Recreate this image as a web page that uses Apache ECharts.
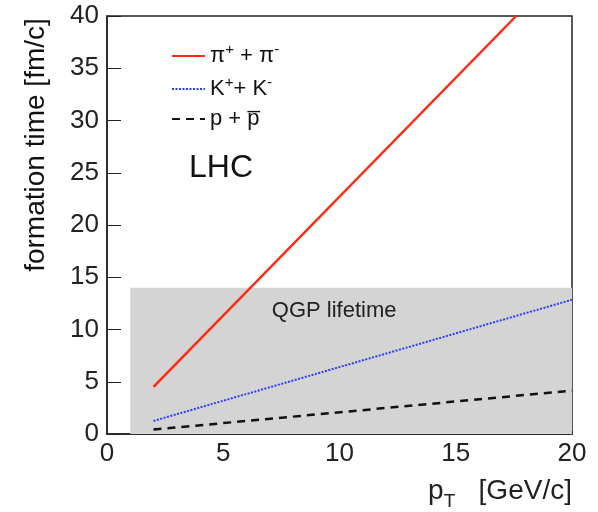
<!DOCTYPE html>
<html>
<head>
<meta charset="utf-8">
<script src="https://cdn.jsdelivr.net/npm/echarts@6/dist/echarts.min.js"></script>
<style>
  html, body { margin: 0; padding: 0; background: #fff; }
  #main { width: 598px; height: 512px; }
</style>
</head>
<body>
<div id="main"></div>
<script>
// data
var seriesNames = ['pion', 'kaon', 'proton'];
var pionLine = [[2, 4.5], [17.6, 40]];
var kaonLine = [[2, 1.25], [20, 12.85]];
var protonLine = [[2, 0.42], [20, 4.15]];
var qgpBox = [[1, 0], [20, 14]];
var xTicks = [0, 5, 10, 15, 20];
var yTicks = [0, 5, 10, 15, 20, 25, 30, 35, 40];

var FONT = 'Liberation Sans';
var dom = document.getElementById('main');
var myChart = echarts.init(dom);

var option = {
    animation: false,
    textStyle: { fontFamily: FONT },
    grid: {
        left: 107, right: 26, top: 16, bottom: 78,
        outerBoundsMode: 'none',
        show: true, borderColor: '#222', borderWidth: 1.5
    },
    legend: {
        orient: 'vertical',
        left: 166,
        top: 37,
        itemWidth: 33,
        itemHeight: 14,
        itemGap: 8,
        itemStyle: { opacity: 0 },
        textStyle: {
            fontSize: 22, color: '#111',
            rich: {
                n: { fontSize: 22, lineHeight: 28, color: '#111' },
                sup: { fontSize: 15, lineHeight: 15, verticalAlign: 'top', color: '#111' }
            }
        },
        formatter: function (name) {
            if (name === 'pion') return '{n|\u03c0}{sup|+}{n| + \u03c0}{sup|-}';
            if (name === 'kaon') return '{n|K}{sup|+}{n|+ K}{sup|-}';
            return '{n|p + p\u0305}';
        },
        data: seriesNames
    },
    xAxis: {
        type: 'value',
        min: xTicks[0], max: xTicks[xTicks.length - 1], interval: 5,
        splitLine: { show: false },
        axisLine: { lineStyle: { color: '#222', width: 1.5 } },
        axisTick: { inside: true, length: 3, lineStyle: { color: '#222' } },
        axisLabel: { fontSize: 26, color: '#222', margin: 7 },
        name: '{n|p}{sub|T}{n|   [GeV/c]}',
        nameLocation: 'middle',
        nameGap: 37,
        nameTextStyle: {
            padding: [0, 0, 0, 321],
            rich: {
                n: { fontSize: 28, lineHeight: 40, color: '#222' },
                sub: { fontSize: 19, lineHeight: 19, verticalAlign: 'bottom', color: '#222' }
            }
        }
    },
    yAxis: {
        type: 'value',
        min: yTicks[0], max: yTicks[yTicks.length - 1], interval: 5,
        splitLine: { show: false },
        axisLine: { show: true, lineStyle: { color: '#222', width: 1.5 } },
        axisTick: { show: true, inside: true, length: 14, lineStyle: { color: '#222' } },
        axisLabel: { fontSize: 26, color: '#222', margin: 8 },
        name: 'formation time [fm/c]',
        nameLocation: 'middle',
        nameGap: 57,
        nameTextStyle: { fontSize: 28, color: '#111', padding: [0, 0, 0, 160] }
    },
    graphic: [{
        type: 'text',
        left: 189, top: 152,
        style: { text: 'LHC', fontSize: 32, fill: '#111', fontFamily: FONT }
    }],
    series: [
        {
            name: 'pion', type: 'line', data: pionLine, symbol: 'none',
            lineStyle: { color: '#ff2a12', width: 2.5 },
            itemStyle: { color: '#ff2a12' },
            z: 5,
            markArea: {
                silent: true,
                itemStyle: { color: '#d4d4d4' },
                label: {
                    show: true, position: 'insideTop', distance: 12,
                    offset: [-17, 0],
                    fontSize: 22, color: '#222', fontFamily: FONT
                },
                data: [[
                    { name: 'QGP lifetime', coord: qgpBox[0] },
                    { coord: qgpBox[1] }
                ]]
            }
        },
        {
            name: 'kaon', type: 'line', data: kaonLine, symbol: 'none',
            lineStyle: { color: '#2a3cff', width: 2, type: [2, 1.5] },
            itemStyle: { color: '#2a3cff' },
            z: 5
        },
        {
            name: 'proton', type: 'line', data: protonLine, symbol: 'none',
            lineStyle: { color: '#111', width: 2.5, type: [8, 6] },
            itemStyle: { color: '#111' },
            z: 5
        }
    ]
};

myChart.setOption(option);
</script>
</body>
</html>
